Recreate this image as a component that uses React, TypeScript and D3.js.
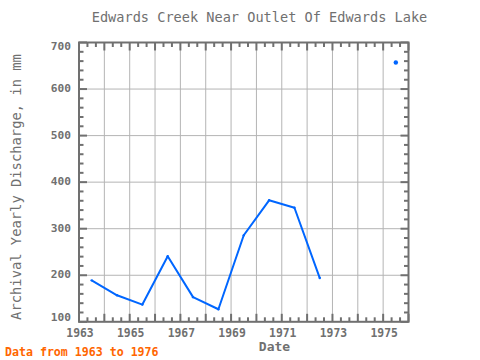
import React from "react";
import * as d3 from "d3";

const years = [1963.5, 1964.5, 1965.5, 1966.5, 1967.5, 1968.5, 1969.5, 1970.5, 1971.5, 1972.5, 1973.5, 1974.5, 1975.5];
const discharge: (number | null)[] = [189, 157, 137, 241, 153, 127, 286, 361, 345, 194, null, null, 657];
const xTickLabels = [1963, 1965, 1967, 1969, 1971, 1973, 1975];
const yTickLabels = [100, 200, 300, 400, 500, 600, 700];

const W = 480, H = 360;
const L = 79, R = 408.5, T = 42.5, B = 321.8;
const GRAY = "#707070";
const GRID = "#b4b4b4";
const BLUE = "#0066ff";
const FONT = "'DejaVu Sans Mono', 'Liberation Mono', monospace";

export default function App() {
  const x = d3.scaleLinear().domain([1963, 1976]).range([L, R]);
  const y = d3.scaleLinear().domain([100, 700]).range([B, T]);

  const pts = years.map((yr, i) => ({ yr, v: discharge[i] }));
  const line = d3
    .line<{ yr: number; v: number | null }>()
    .defined((d) => d.v !== null)
    .x((d) => x(d.yr))
    .y((d) => y(d.v as number));

  const yearTicks = d3.range(1963, 1977);
  const minorX: number[] = [];
  for (let yr = 1963; yr < 1976; yr++) {
    minorX.push(yr + 1 / 3, yr + 2 / 3);
  }
  const majorY = d3.range(100, 701, 100);
  const minorY = d3.range(100, 700, 20).filter((v) => v % 100 !== 0);

  const isolated = pts.filter((d, i) => {
    if (d.v === null) return false;
    const prev = i > 0 ? pts[i - 1].v : null;
    const next = i < pts.length - 1 ? pts[i + 1].v : null;
    return prev === null && next === null;
  });
  const ends = pts.filter((d, i) => d.v !== null);

  return (
    <svg width={W} height={H} style={{ position: "absolute", left: 0, top: 0, background: "#fff" }}>
      <rect x={0} y={0} width={W} height={H} fill="#fff" />
      <text x={259.5} y={18} textAnchor="middle" dominantBaseline="middle" fill={GRAY} fontFamily={FONT} fontSize={13.6}>
        Edwards Creek Near Outlet Of Edwards Lake
      </text>
      {/* gridlines */}
      {yearTicks.slice(1, -1).map((yr) => (
        <line key={"gx" + yr} x1={x(yr)} x2={x(yr)} y1={T} y2={B} stroke={GRID} strokeWidth={1} />
      ))}
      {majorY.slice(1, -1).map((v) => (
        <line key={"gy" + v} x1={L} x2={R} y1={y(v)} y2={y(v)} stroke={GRID} strokeWidth={1} />
      ))}
      {/* ticks */}
      {yearTicks.map((yr) => (
        <g key={"tx" + yr}>
          <line x1={x(yr)} x2={x(yr)} y1={B} y2={B - 8} stroke={GRAY} strokeWidth={2} />
          <line x1={x(yr)} x2={x(yr)} y1={T} y2={T + 8} stroke={GRAY} strokeWidth={2} />
        </g>
      ))}
      {minorX.map((yr, i) => (
        <g key={"mx" + i}>
          <line x1={x(yr)} x2={x(yr)} y1={B} y2={B - 4.5} stroke={GRAY} strokeWidth={2} />
          <line x1={x(yr)} x2={x(yr)} y1={T} y2={T + 4.5} stroke={GRAY} strokeWidth={2} />
        </g>
      ))}
      {majorY.map((v) => (
        <g key={"ty" + v}>
          <line x1={L} x2={L + 8} y1={y(v)} y2={y(v)} stroke={GRAY} strokeWidth={2} />
          <line x1={R} x2={R - 8} y1={y(v)} y2={y(v)} stroke={GRAY} strokeWidth={2} />
        </g>
      ))}
      {minorY.map((v) => (
        <g key={"my" + v}>
          <line x1={L} x2={L + 4.5} y1={y(v)} y2={y(v)} stroke={GRAY} strokeWidth={2} />
          <line x1={R} x2={R - 4.5} y1={y(v)} y2={y(v)} stroke={GRAY} strokeWidth={2} />
        </g>
      ))}
      {/* frame */}
      <rect x={L} y={T} width={R - L} height={B - T} fill="none" stroke={GRAY} strokeWidth={2} />
      {/* data */}
      <path d={line(pts) || ""} fill="none" stroke={BLUE} strokeWidth={2} strokeLinejoin="round" />
      {isolated.map((d, i) => (
        <circle key={"iso" + i} cx={x(d.yr)} cy={y(d.v as number)} r={2.2} fill={BLUE} />
      ))}
      {ends.map((d, i) => (
        <circle key={"pt" + i} cx={x(d.yr)} cy={y(d.v as number)} r={1.2} fill={BLUE} />
      ))}
      {/* y labels */}
      {yTickLabels.map((v, i) => {
        let dy = 0;
        if (i === 0) dy = -4;
        if (i === yTickLabels.length - 1) dy = 4;
        return (
          <text key={"yl" + v} x={71} y={y(v) + dy} textAnchor="end" dominantBaseline="middle" fill={GRAY} fontFamily={FONT} fontSize={11.2} fontWeight="bold">
            {v}
          </text>
        );
      })}
      {/* x labels */}
      {xTickLabels.map((yr) => (
        <text key={"xl" + yr} x={x(yr) + 1} y={333} textAnchor="middle" dominantBaseline="middle" fill={GRAY} fontFamily={FONT} fontSize={11.4} fontWeight="bold">
          {yr}
        </text>
      ))}
      <text x={274.5} y={347.5} textAnchor="middle" dominantBaseline="middle" fill={GRAY} fontFamily={FONT} fontSize={13} fontWeight="bold">
        Date
      </text>
      <text transform={`translate(17,187) rotate(-90)`} textAnchor="middle" dominantBaseline="middle" fill={GRAY} fontFamily={FONT} fontSize={13.8}>
        Archival Yearly Discharge, in mm
      </text>
      <text x={5} y={352.3} textAnchor="start" dominantBaseline="middle" fill="#ff6600" fontFamily={FONT} fontSize={11.6} fontWeight="bold">
        Data from 1963 to 1976
      </text>
    </svg>
  );
}
